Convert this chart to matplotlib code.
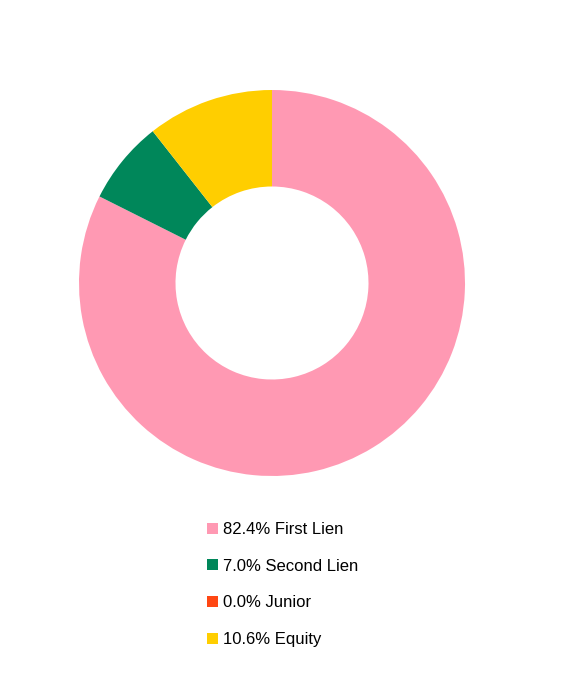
import matplotlib.pyplot as plt
from matplotlib.patches import Patch

labels = ['First Lien', 'Second Lien', 'Junior', 'Equity']
shares = [82.4, 7.0, 0.0, 10.6]
colors = ['#FF99B3', '#00875A', '#FF4713', '#FFCE00']

plt.rcParams['font.family'] = ['Liberation Sans', 'DejaVu Sans']

fig = plt.figure(figsize=(5.75, 6.95), dpi=100)
ax = fig.add_axes([(272 - 193) / 575, 1 - (283 + 193) / 695, 386 / 575, 386 / 695])
ax.pie(shares, colors=colors, startangle=90, counterclock=False,
       wedgeprops=dict(width=0.5, linewidth=0))
ax.set_xlim(-1, 1)
ax.set_ylim(-1, 1)
ax.set_aspect('equal')
ax.axis('off')

handles = [Patch(facecolor=c, edgecolor='none') for c in colors]
legend_labels = [f'{v:.1f}% {name}' for v, name in zip(shares, labels)]
fig.legend(handles, legend_labels, loc='upper left',
           bbox_to_anchor=(207 / 575, 1 - 522 / 695), frameon=False,
           borderpad=0, borderaxespad=0, handlelength=0.65, handleheight=0.65,
           handletextpad=0.3, labelspacing=1.3, fontsize=12)

fig.savefig('out.png', dpi=100)
